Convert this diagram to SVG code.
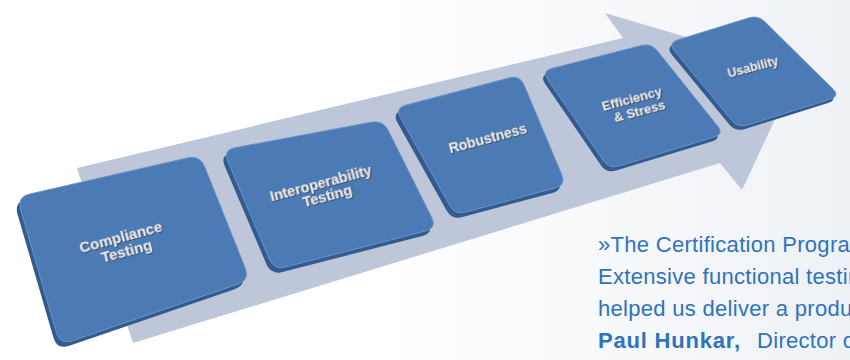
<svg xmlns="http://www.w3.org/2000/svg" xmlns:xlink="http://www.w3.org/1999/xlink" width="850" height="360" viewBox="0 0 850 360">
  <defs>
    <linearGradient id="bg" x1="0" y1="0" x2="1" y2="0">
      <stop offset="0" stop-color="#ffffff"/>
      <stop offset="0.45" stop-color="#ffffff"/>
      <stop offset="1" stop-color="#eef1f5"/>
    </linearGradient>
    <filter id="ts" x="-10%" y="-30%" width="120%" height="160%">
      <feDropShadow dx="0.8" dy="0.9" stdDeviation="0.35" flood-color="#2a2f38" flood-opacity="0.9"/>
    </filter>
    <path id="f1" d="M29.6,194.1 L187.4,157.9 Q200,155 204.8,167 L245.2,268 Q250,280 237.7,284.2 L72.3,340.8 Q60,345 56.4,332.5 L20.6,209.5 Q17,197 29.6,194.1Z"/>
    <path id="f2" d="M234.8,147.8 L371.2,122.2 Q383,120 388.4,130.7 L431.6,217.3 Q437,228 425.4,231 L285.6,267 Q274,270 269.3,259 L227.7,161 Q223,150 234.8,147.8Z"/>
    <path id="f3" d="M405.6,105.2 L509.4,77.8 Q520,75 524.2,85.2 L561.8,174.8 Q566,185 555.4,187.9 L465.6,212.1 Q455,215 449.6,205.4 L400.4,117.6 Q395,108 405.6,105.2Z"/>
    <path id="f4" d="M551.7,68.5 L641.3,45.5 Q651,43 657.3,50.8 L717.7,126.2 Q724,134 714.4,136.9 L618.6,166.1 Q609,169 603.4,160.7 L547.6,79.3 Q542,71 551.7,68.5Z"/>
    <path id="f5" d="M677.5,40 L748.5,18 Q758,15 765.1,22 L832.9,89 Q840,96 830.5,99 L747.5,125 Q738,128 731.6,120.3 L674.4,50.7 Q668,43 677.5,40Z"/>
  </defs>
  <style>
    .base { fill: #335b8e; }
    .face { fill: #4b7ab5; stroke: #6c93c7; stroke-width: 1; }
    .band { fill: #bec6d9; }
    .lbl { font-family: "Liberation Sans", Arial, sans-serif; font-weight: bold; fill: #e9e9e9; text-anchor: middle; filter: url(#ts); }
    .quote { font-family: "Liberation Sans", Arial, sans-serif; font-size: 22px; letter-spacing: 0.3px; fill: #2f73bd; }
    .qb { font-weight: bold; letter-spacing: 0.8px; }
  </style>

  <rect width="850" height="360" fill="url(#bg)"/>

  <g id="connectors">
    <polygon class="band" points="77,168 623,38 605,13 798,70 742,190 720,163 133,343"/>
  </g>

  <g id="node-compliance">
    <use xlink:href="#f1" class="base" transform="translate(-3,5)"/>
    <use xlink:href="#f1" class="face"/>
    <g transform="translate(122,242) rotate(-15)">
      <text class="lbl" font-size="15" x="0" y="0">Compliance</text>
      <text class="lbl" font-size="15" x="2" y="15">Testing</text>
    </g>
  </g>

  <g id="node-interoperability">
    <use xlink:href="#f2" class="base" transform="translate(-3,5)"/>
    <use xlink:href="#f2" class="face"/>
    <g transform="translate(322,188) rotate(-15)">
      <text class="lbl" font-size="14.5" x="0" y="0">Interoperability</text>
      <text class="lbl" font-size="14.5" x="3" y="14.5">Testing</text>
    </g>
  </g>

  <g id="node-robustness">
    <use xlink:href="#f3" class="base" transform="translate(-3,5)"/>
    <use xlink:href="#f3" class="face"/>
    <g transform="translate(489,143) rotate(-15)">
      <text class="lbl" font-size="14" x="0" y="0">Robustness</text>
    </g>
  </g>

  <g id="node-efficiency">
    <use xlink:href="#f4" class="base" transform="translate(-2.5,4.5)"/>
    <use xlink:href="#f4" class="face"/>
    <g transform="translate(633,103) rotate(-15)">
      <text class="lbl" font-size="13" x="0" y="0">Efficiency</text>
      <text class="lbl" font-size="13" x="4" y="14">&amp; Stress</text>
    </g>
  </g>

  <g id="node-usability">
    <use xlink:href="#f5" class="base" transform="translate(-2.5,4)"/>
    <use xlink:href="#f5" class="face"/>
    <g transform="translate(754,71) rotate(-15)">
      <text class="lbl" font-size="12.5" x="0" y="0">Usability</text>
    </g>
  </g>

  <g id="quote">
    <text class="quote" x="598" y="252">»The Certification Progra</text>
    <text class="quote" x="598" y="284">Extensive functional testin</text>
    <text class="quote" x="598" y="316">helped us deliver a produ</text>
    <text class="quote" x="598" y="348"><tspan class="qb">Paul Hunkar,</tspan></text>
    <text class="quote" x="757" y="348">Director o</text>
  </g>
</svg>
